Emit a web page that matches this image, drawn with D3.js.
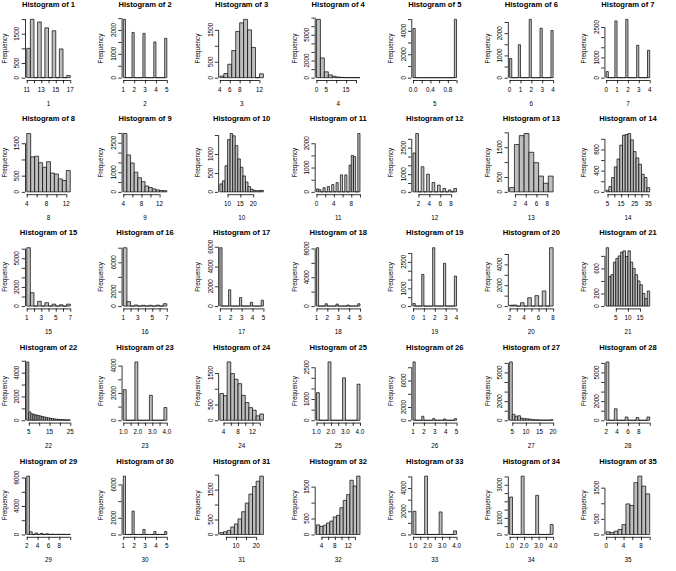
<!DOCTYPE html>
<meta charset="utf-8">
<head>
  <script src="https://cdnjs.cloudflare.com/ajax/libs/d3/7.8.5/d3.min.js"></script>
  <style>
    body { margin: 0; background: #fff; }
    svg { display: block; }
    text { font-family: "Liberation Sans", Arial, sans-serif; fill: #000; }
    .axis path, .axis line { stroke: #000; stroke-width: 0.8; }
  </style>
</head>
<body>
<div id="my_dataviz"></div>
<script>

// one histogram per variable, laid out 5 rows x 7 columns
var names = ["1","2","3","4","5","6","7","8","9","10","11","12","13","14","15","16","17","18",
  "19","20","21","22","23","24","25","26","27","28","29","30","31","32","33","34","35"];

// first break and bin width of each histogram
var binStart = [11, 1, 4, 0, 0, 0, 0, 4, 4, 7, 0, 1, 1, 4, 1, 1, 1, 1, 0, 2, 1, 4, 1, 3, 1, 1, 4, 2, 2, 1, 2, 2.5, 1, 1, 0];
var binWidth = [0.5, 0.2, 0.8, 2, 0.05, 0.2, 0.2, 0.8, 0.8, 1, 0.5, 0.5, 0.9, 2, 0.5, 0.5, 0.2, 0.2, 0.2, 0.5, 1, 1, 0.2, 1, 0.2, 0.2, 1, 0.5, 0.5, 0.2, 1.8, 1, 0.2, 0.2, 0.909];

// bin counts
var counts = [
  [1000,1990,0,1900,0,1700,0,1600,0,980,0,70],
  [2450,0,0,0,1900,0,0,0,0,1860,0,0,0,0,1500,0,0,0,0,1650],
  [50,130,420,850,1450,1720,1830,1500,950,0,120],
  [6800,2300,680,320,160,70,30,15,8,5,3],
  [4200,0,0,0,0,0,0,0,0,0,0,0,0,0,0,0,0,0,0,4980],
  [860,0,0,0,1480,0,0,0,0,2620,0,0,0,0,2220,0,0,0,0,2120],
  [300,0,0,0,2800,0,0,0,0,2880,0,0,0,0,1600,0,0,0,0,1350],
  [1800,1080,1100,900,760,930,580,550,400,350,660],
  [2970,1880,1470,1000,720,520,300,220,150,100,70,60],
  [210,290,690,1380,1540,1480,1220,870,650,420,260,140,70,40,30,35,40],
  [120,90,0,170,0,220,0,300,0,380,0,700,0,700,0,1100,1500,1450,0,2400],
  [2200,3300,0,1420,0,1000,0,530,0,380,0,190,0,110,0,190],
  [145,1590,1890,1960,1330,980,530,290,530],
  [30,100,270,470,620,880,1070,1080,1100,980,760,640,520,330,270,80],
  [6100,1400,0,500,0,350,0,200,0,130,0,200],
  [8000,600,0,140,0,100,0,100,0,120,0,320],
  [5900,0,0,0,1650,0,0,0,0,860,0,0,0,0,380,0,0,0,0,590],
  [8100,0,0,0,320,0,0,0,0,280,0,0,0,0,140,0,0,0,0,320],
  [150,0,0,0,1790,0,0,0,0,3300,0,0,0,0,2420,0,0,0,0,1700],
  [80,100,0,320,0,800,0,1000,0,1450,0,5600],
  [930,470,500,700,760,800,860,880,790,880,700,600,500,400,340,200,120,240],
  [4900,700,540,500,450,400,370,320,280,240,200,170,140,110,90,70,60,50,40,30,40],
  [2240,0,0,0,4270,0,0,0,0,1830,0,0,0,0,930],
  [850,780,1850,1480,1300,1160,790,560,400,320,140,200],
  [1300,0,0,0,2750,0,0,0,0,2000,0,0,0,0,1700],
  [8800,0,0,0,600,0,0,0,0,250,0,0,0,0,200,0,0,0,0,250],
  [6100,620,420,470,220,170,150,120,60,50,40,30,20,20,15,50],
  [6100,0,0,1200,0,0,0,340,0,0,0,280,0,0,0,340],
  [8200,380,0,200,0,150,0,100,0,40,0,30,0,20,0,20],
  [7000,0,0,0,2800,0,0,0,0,600,0,0,0,0,350,0,0,0,0,350],
  [60,90,130,250,350,520,760,1050,1350,1600,1780,1950],
  [300,250,290,360,420,550,600,840,1070,1250,1700,1520,1830],
  [2000,0,0,0,5030,0,0,0,0,1940,0,0,0,0,310],
  [2260,0,0,0,3520,0,0,0,0,2360,0,0,0,0,600],
  [85,60,105,160,315,980,930,1660,1870,1550,1300]
];

// x axis ticks and the labels that are printed
var xTicks = [
  [11,12,13,14,15,16,17], [1,2,3,4,5], [4,6,8,10,12], [0,5,10,15,20], [0,0.2,0.4,0.6,0.8,1],
  [0,1,2,3,4], [0,1,2,3,4], [4,6,8,10,12], [4,6,8,10,12], [10,15,20],
  [0,2,4,6,8,10], [2,4,6,8], [2,4,6,8], [5,10,15,20,25,30,35], [1,2,3,4,5,6,7],
  [1,2,3,4,5,6,7], [1,2,3,4,5], [1,2,3,4,5], [0,1,2,3,4], [2,3,4,5,6,7,8],
  [5,10,15], [5,10,15,20,25], [1,1.5,2,2.5,3,3.5,4], [4,6,8,10,12,14], [1,1.5,2,2.5,3,3.5,4],
  [1,2,3,4,5], [5,10,15,20], [2,4,6,8,10], [2,4,6,8,10], [1,2,3,4,5],
  [5,10,15,20], [4,6,8,10,12,14], [1,1.5,2,2.5,3,3.5,4], [1,1.5,2,2.5,3,3.5,4], [0,2,4,6,8,10]
];
var xLabels = [
  ["11","13","15","17"], ["1","2","3","4","5"], ["4","6","8","12"], ["0","5","15"], ["0.0","0.4","0.8"],
  ["0","1","2","3","4"], ["0","1","2","3","4"], ["4","8","12"], ["4","8","12"], ["10","15","20"],
  ["0","4","8"], ["2","4","6","8"], ["2","4","6","8"], ["5","15","25","35"], ["1","3","5","7"],
  ["1","3","5","7"], ["1","2","3","4","5"], ["1","2","3","4","5"], ["0","1","2","3","4"], ["2","4","6","8"],
  ["5","10","15"], ["5","15","25"], ["1.0","2.0","3.0","4.0"], ["4","8","12"], ["1.0","2.0","3.0","4.0"],
  ["1","2","3","4","5"], ["5","10","15","20"], ["2","4","6","8"], ["2","4","6","8"], ["1","2","3","4","5"],
  ["10","20"], ["4","8","12"], ["1.0","2.0","3.0","4.0"], ["1.0","2.0","3.0","4.0"], ["0","4","8"]
];

// y axis ticks and the labels that are printed
var yTicks = [
  [0,500,1000,1500,2000], [0,500,1000,1500,2000,2500], [0,500,1000,1500], [0,1000,2000,3000,4000,5000,6000,7000], [0,1000,2000,3000,4000,5000],
  [0,500,1000,1500,2000,2500], [0,500,1000,1500,2000,2500], [0,500,1000,1500], [0,500,1000,1500,2000,2500,3000], [0,500,1000,1500],
  [0,500,1000,1500,2000], [0,500,1000,1500,2000,2500,3000], [0,500,1000,1500,2000], [0,200,400,600,800,1000], [0,1000,2000,3000,4000,5000,6000],
  [0,2000,4000,6000,8000], [0,2000,4000,6000], [0,2000,4000,6000,8000], [0,500,1000,1500,2000,2500,3000], [0,1000,2000,3000,4000,5000],
  [0,200,400,600,800], [0,1000,2000,3000,4000,5000], [0,1000,2000,3000,4000], [0,500,1000,1500], [0,500,1000,1500,2000,2500],
  [0,2000,4000,6000,8000], [0,1000,2000,3000,4000,5000,6000], [0,1000,2000,3000,4000,5000,6000], [0,2000,4000,6000,8000], [0,2000,4000,6000],
  [0,500,1000,1500,2000], [0,500,1000,1500], [0,1000,2000,3000,4000,5000], [0,500,1000,1500,2000,2500,3000,3500], [0,500,1000,1500]
];
var yLabels = [
  ["0","500","1500"], ["0","1000","2000"], ["0","500","1500"], ["0","2000","5000"], ["0","2000","4000"],
  ["0","1000","2000"], ["0","1000","2500"], ["0","500","1500"], ["0","1000","2500"], ["0","500","1000"],
  ["0","1000","2000"], ["0","1000","2500"], ["0","500","1500"], ["0","400","800"], ["0","2000","5000"],
  ["0","2000","6000"], ["0","2000","4000","6000"], ["0","4000","8000"], ["0","1000","2500"], ["0","2000","4000"],
  ["0","200","600"], ["0","2000","4000"], ["0","2000","4000"], ["0","500","1500"], ["0","1000","2500"],
  ["0","2000","6000"], ["0","2000","5000"], ["0","2000","5000"], ["0","4000","8000"], ["0","2000","6000"],
  ["0","500","1500"], ["0","500","1500"], ["0","2000","4000"], ["0","1000","3000"], ["0","500","1500"]
];

var W = 676, H = 571, nCol = 7;
var pw = W / nCol, ph = H / 5;
// plot region inside each panel
var plotL = 25, plotR = 72, plotT = 17, plotB = 80;

var svg = d3.select("#my_dataviz")
  .append("svg")
  .attr("width", W)
  .attr("height", H);

names.forEach(function (name, i) {
  var g = svg.append("g")
    .attr("transform", "translate(" + (i % nCol) * pw + "," + Math.floor(i / nCol) * ph + ")");

  var c = counts[i];
  var lo = binStart[i], hi = binStart[i] + binWidth[i] * c.length;
  var pad = (hi - lo) * 0.04;
  var x = d3.scaleLinear().domain([lo - pad, hi + pad]).range([plotL, plotR]);
  var ymax = d3.max(c);
  var y = d3.scaleLinear().domain([-0.04 * ymax, 1.04 * ymax]).range([plotB, plotT]);

  // bars (empty bins collapse to a line on zero)
  g.selectAll("path.bar")
    .data(c)
    .enter()
    .append("path")
    .attr("class", "bar")
    .attr("d", function (d, k) {
      var x0 = x(lo + k * binWidth[i]), x1 = x(lo + (k + 1) * binWidth[i]);
      return "M" + x0 + "," + y(0) + "V" + y(d) + "H" + x1 + "V" + y(0) + "Z";
    })
    .style("fill", "#bebebe")
    .style("stroke", "#000")
    .style("stroke-width", 0.7);

  // x axis, drawn from first to last tick
  var xt = xTicks[i];
  var xa = g.append("g")
    .attr("class", "axis")
    .attr("transform", "translate(0," + plotB + ")")
    .call(d3.axisBottom(x).tickValues(xt).tickSize(3.3).tickSizeOuter(0).tickFormat(""));
  xa.select(".domain").attr("d", "M" + x(xt[0]) + ",0.5H" + x(xt[xt.length - 1]));

  // y axis
  var yt = yTicks[i];
  var ya = g.append("g")
    .attr("class", "axis")
    .attr("transform", "translate(" + plotL + ",0)")
    .call(d3.axisLeft(y).tickValues(yt).tickSize(3.3).tickSizeOuter(0).tickFormat(""));
  ya.select(".domain").attr("d", "M0.5," + y(yt[0]) + "V" + y(yt[yt.length - 1]));

  g.selectAll("text.xlab")
    .data(xLabels[i])
    .enter()
    .append("text")
    .attr("x", function (d) { return x(+d); })
    .attr("y", 91.6)
    .attr("text-anchor", "middle")
    .style("font-size", "6.3px")
    .text(function (d) { return d; });

  g.selectAll("text.ylab")
    .data(yLabels[i])
    .enter()
    .append("text")
    .attr("transform", function (d) { return "translate(19.4," + y(+d) + ")rotate(-90)"; })
    .attr("text-anchor", "middle")
    .style("font-size", "6.3px")
    .text(function (d) { return d; });

  // titles
  g.append("text")
    .attr("x", (plotL + plotR) / 2)
    .attr("y", 7)
    .attr("text-anchor", "middle")
    .style("font-size", "7.6px")
    .style("font-weight", "bold")
    .text("Histogram of " + name);

  g.append("text")
    .attr("x", (plotL + plotR) / 2)
    .attr("y", 105.6)
    .attr("text-anchor", "middle")
    .style("font-size", "6.3px")
    .text(name);

  g.append("text")
    .attr("transform", "translate(6.8," + (plotT + plotB) / 2 + ")rotate(-90)")
    .attr("text-anchor", "middle")
    .style("font-size", "6.3px")
    .text("Frequency");
});

</script>
</body>
